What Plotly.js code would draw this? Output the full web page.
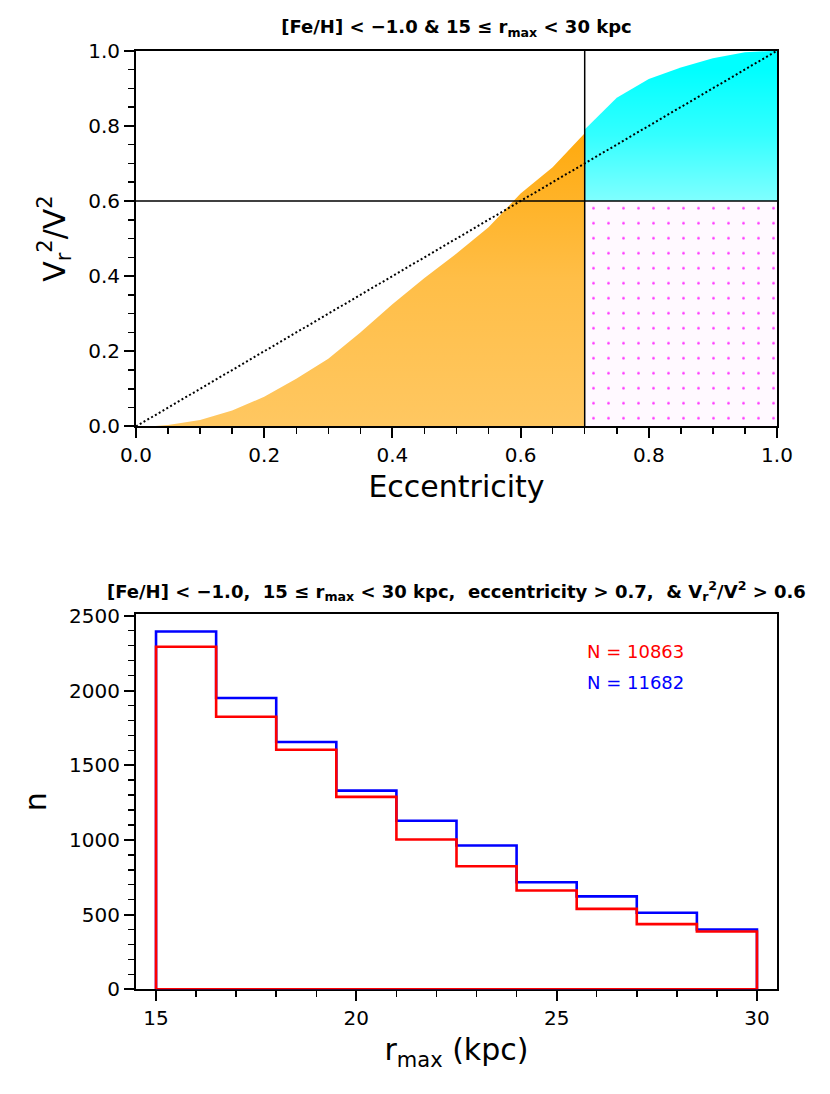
<!DOCTYPE html>
<html>
<head>
<meta charset="utf-8">
<script src="https://cdn.plot.ly/plotly-3.0.1.min.js"></script>
<style>html,body{margin:0;padding:0;background:#fff;}#chart{width:830px;height:1094px;}</style>
</head>
<body>
<div id="chart"></div>
<script>
// ---- Top panel: envelope of the star cloud ----
var eccCut = 0.7;       // vertical divider
var vrCut = 0.6;        // horizontal divider
// lower-eccentricity (orange) cloud: upper envelope
var orangeEcc = [0.02, 0.05, 0.10, 0.15, 0.20, 0.25, 0.30, 0.35, 0.40, 0.45, 0.50, 0.55, 0.60, 0.65, 0.70];
var orangeTop = [0.0, 0.004, 0.017, 0.042, 0.079, 0.127, 0.18, 0.25, 0.325, 0.395, 0.46, 0.53, 0.62, 0.69, 0.78];
// high-eccentricity, high-Vr (cyan) cloud: upper envelope
var cyanEcc = [0.70, 0.75, 0.80, 0.85, 0.90, 0.95, 1.00];
var cyanTop = [0.79, 0.875, 0.925, 0.955, 0.98, 0.996, 1.0];
// high-eccentricity, low-Vr (magenta) sparse region
var magentaEcc = [0.70, 1.00];
var magentaVr = [0.0, 0.6];
// one-to-one reference line
var diagX = [0, 1];
var diagY = [0, 1];

// ---- Bottom panel: step histograms ----
var binEdges = [15, 16.5, 18, 19.5, 21, 22.5, 24, 25.5, 27, 28.5, 30];
var countsBlue = [2395, 1950, 1655, 1330, 1128, 963, 717, 622, 512, 400];
var countsRed  = [2293, 1824, 1603, 1288, 1003, 824, 661, 538, 436, 387];
var labelRed = 'N = 10863';
var labelBlue = 'N = 11682';

function stepXY(edges, counts) {
  var xs = [edges[0]], ys = [0];
  for (var i = 0; i < counts.length; i++) {
    xs.push(edges[i], edges[i + 1]);
    ys.push(counts[i], counts[i]);
  }
  xs.push(edges[edges.length - 1], edges[0]);
  ys.push(0, 0);
  return {x: xs, y: ys};
}

var oX = orangeEcc.concat([orangeEcc[orangeEcc.length - 1], orangeEcc[0]]);
var oY = orangeTop.concat([0, 0]);
var cX = cyanEcc.concat([cyanEcc[cyanEcc.length - 1], cyanEcc[0]]);
var cY = cyanTop.concat([vrCut, vrCut]);
var mX = [magentaEcc[0], magentaEcc[1], magentaEcc[1], magentaEcc[0]];
var mY = [magentaVr[0], magentaVr[0], magentaVr[1], magentaVr[1]];

var sb = stepXY(binEdges, countsBlue);
var sr = stepXY(binEdges, countsRed);

var FONT = 'DejaVu Sans, Arial, sans-serif';

var traces = [
  {x: oX, y: oY, xaxis: 'x', yaxis: 'y', mode: 'lines', fill: 'toself',
   line: {width: 0, color: 'rgba(255,165,0,0)'},
   fillgradient: {type: 'vertical', start: 0, stop: 0.78,
     colorscale: [[0, 'rgba(255,165,0,0.62)'], [0.5, 'rgba(255,165,0,0.72)'], [1, 'rgba(255,165,0,0.95)']]},
   hoverinfo: 'skip', showlegend: false},
  {x: cX, y: cY, xaxis: 'x', yaxis: 'y', mode: 'lines', fill: 'toself',
   line: {width: 0, color: 'rgba(0,255,255,0)'},
   fillgradient: {type: 'vertical', start: 0.6, stop: 0.95,
     colorscale: [[0, 'rgba(0,255,255,0.5)'], [0.5, 'rgba(0,255,255,0.8)'], [1, 'rgba(0,255,255,1)']]},
   hoverinfo: 'skip', showlegend: false},
  {x: mX, y: mY, xaxis: 'x', yaxis: 'y', mode: 'lines', fill: 'toself',
   line: {width: 0, color: 'rgba(255,0,255,0)'},
   fillcolor: 'rgba(255,0,255,0.025)',
   fillpattern: {shape: '.', fgcolor: 'rgba(255,0,255,0.8)', bgcolor: 'rgba(255,0,255,0.025)', size: 15, solidity: 0.025},
   hoverinfo: 'skip', showlegend: false},
  {x: diagX, y: diagY, xaxis: 'x', yaxis: 'y', mode: 'lines',
   line: {color: 'black', width: 2, dash: '2px,2.4px'}, hoverinfo: 'skip', showlegend: false},
  {x: [eccCut, eccCut], y: [0, 1], xaxis: 'x', yaxis: 'y', mode: 'lines',
   line: {color: 'black', width: 1.5}, hoverinfo: 'skip', showlegend: false},
  {x: [0, 1], y: [vrCut, vrCut], xaxis: 'x', yaxis: 'y', mode: 'lines',
   line: {color: 'black', width: 1.5}, hoverinfo: 'skip', showlegend: false},
  {x: sb.x, y: sb.y, xaxis: 'x2', yaxis: 'y2', mode: 'lines',
   line: {color: 'rgb(0,0,255)', width: 2.6}, hoverinfo: 'skip', showlegend: false},
  {x: sr.x, y: sr.y, xaxis: 'x2', yaxis: 'y2', mode: 'lines',
   line: {color: 'rgb(255,0,0)', width: 2.6}, hoverinfo: 'skip', showlegend: false}
];

var W = 830, H = 1094;
var L = 136, R = 777;
function xd(a, b) { return [a / W, b / W]; }
function yd(top, bot) { return [1 - bot / H, 1 - top / H]; }

var tickFont = {family: FONT, size: 20, color: 'black'};
var common = {
  showline: true, linecolor: 'black', linewidth: 2, mirror: true,
  ticks: 'outside', ticklen: 10, tickwidth: 2, tickcolor: 'black',
  showgrid: false, zeroline: false, tickfont: tickFont, fixedrange: true
};
function ax(extra) { var o = {}; for (var k in common) o[k] = common[k]; for (var k2 in extra) o[k2] = extra[k2]; return o; }

var layout = {
  width: W, height: H,
  margin: {l: 0, r: 0, t: 0, b: 0},
  paper_bgcolor: 'white', plot_bgcolor: 'white',
  showlegend: false,
  font: {family: FONT, color: 'black'},
  title: {text: '<b>[Fe/H] &lt; \u22121.0 &amp; 15 \u2264 r<sub>max</sub> &lt; 30 kpc</b>',
          font: {family: FONT, size: 18, color: 'black'},
          x: 456.5 / W, xanchor: 'center', y: 1 - 27 / H, yanchor: 'middle'},
  xaxis: ax({domain: xd(L, R), range: [0, 1], anchor: 'y', tickmode: 'linear', tick0: 0, dtick: 0.2,
    tickformat: '.1f',
    minor: {dtick: 0.05, tick0: 0, ticks: 'outside', ticklen: 6, tickwidth: 1.5, tickcolor: 'black', showgrid: false},
    title: {text: 'Eccentricity', font: {family: FONT, size: 30, color: 'black'}, standoff: 10}}),
  yaxis: ax({domain: yd(50.7, 426.4), range: [0, 1], anchor: 'x', tickmode: 'linear', tick0: 0, dtick: 0.2,
    tickformat: '.1f',
    minor: {dtick: 0.05, tick0: 0, ticks: 'outside', ticklen: 6, tickwidth: 1.5, tickcolor: 'black', showgrid: false},
    title: {text: 'V<sub>r</sub><sup>2</sup>/V<sup>2</sup>', font: {family: FONT, size: 30, color: 'black'}, standoff: 14}}),
  xaxis2: ax({domain: xd(L, R), range: [14.5, 30.5], anchor: 'y2', tickmode: 'linear', tick0: 15, dtick: 5,
    layer: 'below traces',
    minor: {dtick: 1, tick0: 15, ticks: 'outside', ticklen: 6, tickwidth: 1.5, tickcolor: 'black', showgrid: false},
    title: {text: 'r<sub>max</sub> (kpc)', font: {family: FONT, size: 30, color: 'black'}, standoff: 10}}),
  yaxis2: ax({domain: yd(614.3, 989.3), range: [0, 2510], anchor: 'x2', tickmode: 'linear', tick0: 0, dtick: 500,
    minor: {dtick: 100, tick0: 0, ticks: 'outside', ticklen: 6, tickwidth: 1.5, tickcolor: 'black', showgrid: false},
    title: {text: 'n', font: {family: FONT, size: 30, color: 'black'}, standoff: 14}}),
  annotations: [
    {text: '<b>[Fe/H] &lt; \u22121.0,  15 \u2264 r<sub>max</sub> &lt; 30 kpc,  eccentricity &gt; 0.7,  &amp; V<sub>r</sub><sup>2</sup>/V<sup>2</sup> &gt; 0.6</b>',
     xref: 'paper', yref: 'paper', x: 456.5 / W, y: 1 - 591 / H, xanchor: 'center', yanchor: 'middle',
     showarrow: false, font: {family: FONT, size: 18, color: 'black'}},
    {text: labelRed, xref: 'x2 domain', yref: 'y2 domain', x: 0.701, y: 0.9, xanchor: 'left', yanchor: 'middle',
     showarrow: false, font: {family: FONT, size: 18, color: 'rgb(255,0,0)'}},
    {text: labelBlue, xref: 'x2 domain', yref: 'y2 domain', x: 0.701, y: 0.817, xanchor: 'left', yanchor: 'middle',
     showarrow: false, font: {family: FONT, size: 18, color: 'rgb(0,0,255)'}}
  ]
};

Plotly.newPlot('chart', traces, layout, {staticPlot: true, displayModeBar: false});
</script>
</body>
</html>
